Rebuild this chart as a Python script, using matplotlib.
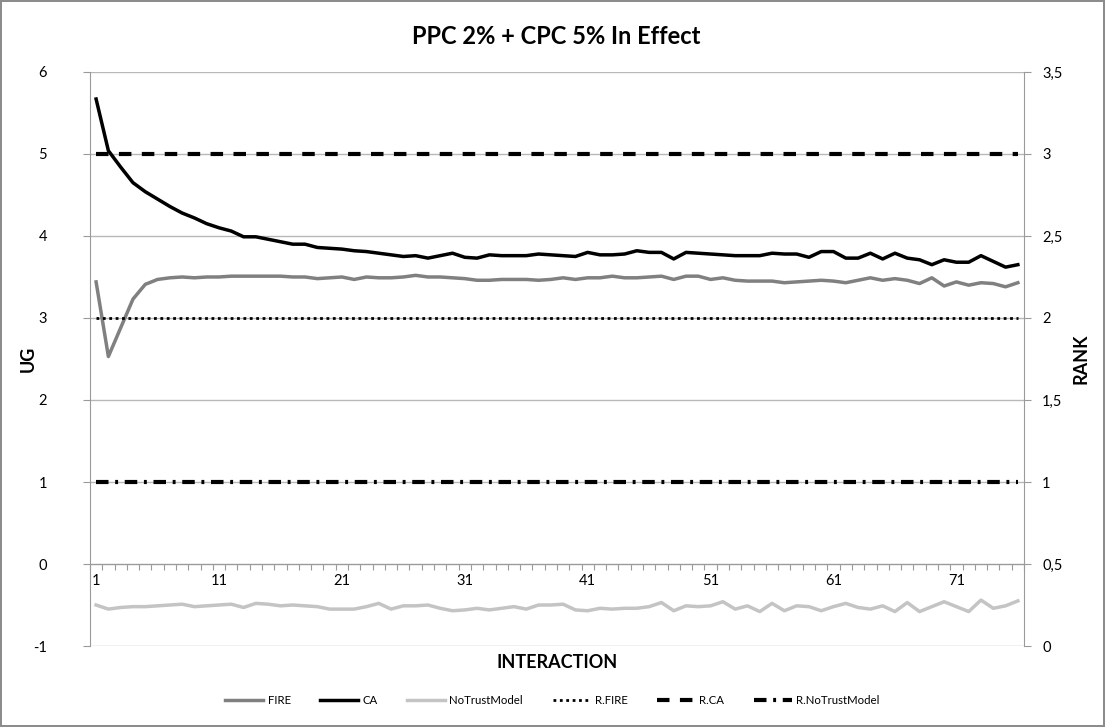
import matplotlib
matplotlib.use("Agg")
import matplotlib.pyplot as plt
from matplotlib.ticker import FixedLocator, FuncFormatter, NullFormatter

plt.rcParams["font.family"] = ["Lato", "DejaVu Sans"]
plt.rcParams["axes.unicode_minus"] = False

# Interaction index (category axis)
interaction = list(range(1, 77))

# UG values (left axis)
fire = [3.44, 2.53, 2.88, 3.23, 3.41, 3.47, 3.49, 3.50, 3.49, 3.50,
        3.50, 3.51, 3.51, 3.51, 3.51, 3.51, 3.50, 3.50, 3.48, 3.49,
        3.50, 3.47, 3.50, 3.49, 3.49, 3.50, 3.52, 3.50, 3.50, 3.49,
        3.48, 3.46, 3.46, 3.47, 3.47, 3.47, 3.46, 3.47, 3.49, 3.47,
        3.49, 3.49, 3.51, 3.49, 3.49, 3.50, 3.51, 3.47, 3.51, 3.51,
        3.47, 3.49, 3.46, 3.45, 3.45, 3.45, 3.43, 3.44, 3.45, 3.46,
        3.45, 3.43, 3.46, 3.49, 3.46, 3.48, 3.46, 3.42, 3.49, 3.39,
        3.44, 3.40, 3.43, 3.42, 3.38, 3.43]
ca = [5.67, 5.04, 4.84, 4.65, 4.54, 4.45, 4.36, 4.28, 4.22, 4.15,
      4.10, 4.06, 3.99, 3.99, 3.96, 3.93, 3.90, 3.90, 3.86, 3.85,
      3.84, 3.82, 3.81, 3.79, 3.77, 3.75, 3.76, 3.73, 3.76, 3.79,
      3.74, 3.73, 3.77, 3.76, 3.76, 3.76, 3.78, 3.77, 3.76, 3.75,
      3.80, 3.77, 3.77, 3.78, 3.82, 3.80, 3.80, 3.72, 3.80, 3.79,
      3.78, 3.77, 3.76, 3.76, 3.76, 3.79, 3.78, 3.78, 3.74, 3.81,
      3.81, 3.73, 3.73, 3.79, 3.72, 3.79, 3.73, 3.71, 3.65, 3.71,
      3.68, 3.68, 3.76, 3.69, 3.62, 3.65]
no_trust = [-0.50, -0.55, -0.53, -0.52, -0.52, -0.51, -0.50, -0.49, -0.52, -0.51,
            -0.50, -0.49, -0.53, -0.48, -0.49, -0.51, -0.50, -0.51, -0.52, -0.55,
            -0.55, -0.55, -0.52, -0.48, -0.55, -0.51, -0.51, -0.50, -0.54, -0.57,
            -0.56, -0.54, -0.56, -0.54, -0.52, -0.55, -0.50, -0.50, -0.49, -0.56,
            -0.57, -0.54, -0.55, -0.54, -0.54, -0.52, -0.47, -0.57, -0.51, -0.52,
            -0.51, -0.46, -0.55, -0.51, -0.58, -0.48, -0.57, -0.51, -0.52, -0.57,
            -0.52, -0.48, -0.53, -0.55, -0.51, -0.58, -0.47, -0.58, -0.52, -0.46,
            -0.52, -0.58, -0.44, -0.54, -0.51, -0.45]

# RANK values (right axis), constant over all interactions
r_fire = [2] * len(interaction)
r_ca = [3] * len(interaction)
r_no_trust = [1] * len(interaction)

x_labels = [1, 11, 21, 31, 41, 51, 61, 71]

axis_gray = "#9a9a9a"
grid_gray = "#b8b8b8"

fig = plt.figure(figsize=(11.05, 7.27), dpi=100)
fig.patch.set_edgecolor("#8c8c8c")
fig.patch.set_linewidth(1.5)

ax = fig.add_axes([0.0814, 0.1114, 0.8453, 0.7896])
ax2 = ax.twinx()

# UG lines
l_fire, = ax.plot(interaction, fire, color="#808080", lw=2.5, label="FIRE")
l_ca, = ax.plot(interaction, ca, color="black", lw=2.5, label="CA")
l_nt, = ax.plot(interaction, no_trust, color="#c4c4c4", lw=2.5, label="NoTrustModel")

# RANK lines
r1, = ax2.plot(interaction, r_fire, color="black", lw=2.0, dashes=(1, 1.3),
               dash_capstyle="butt", label="R.FIRE")
r2, = ax2.plot(interaction, r_ca, color="black", lw=3.0, dashes=(3, 2.5),
               dash_capstyle="butt", label="R.CA")
r3, = ax2.plot(interaction, r_no_trust, color="black", lw=3.0, dashes=(3, 1.6, 0.7, 1.6),
               dash_capstyle="butt", label="R.NoTrustModel")

ax.set_xlim(0.5, len(interaction) + 0.5)
ax.set_ylim(-1, 6)
ax2.set_ylim(0, 3.5)

# left axis
ax.set_yticks(range(-1, 7))
ax.yaxis.grid(True, color=grid_gray, lw=1.0)
ax.set_axisbelow(True)
ax.tick_params(axis="y", direction="out", length=5, color=axis_gray, labelsize=10.5, pad=26)

# category axis crossing at zero
ax.spines["bottom"].set_position(("data", 0))
ax.spines["bottom"].set_color(axis_gray)
ax.spines["left"].set_color(axis_gray)
ax.spines["top"].set_visible(False)
ax.spines["right"].set_visible(False)
ax.xaxis.set_major_locator(FixedLocator([i + 0.5 for i in range(0, len(interaction) + 1)]))
ax.xaxis.set_major_formatter(NullFormatter())
ax.xaxis.set_minor_locator(FixedLocator(x_labels))
ax.xaxis.set_minor_formatter(FuncFormatter(lambda v, p: f"{int(v)}"))
ax.tick_params(axis="x", which="major", direction="out", length=4, color=axis_gray)
ax.tick_params(axis="x", which="minor", length=0, labelsize=10.5, pad=7)

# right axis
ax2.set_yticks([0, 0.5, 1, 1.5, 2, 2.5, 3, 3.5])
ax2.yaxis.set_major_formatter(FuncFormatter(lambda v, p: f"{v:g}".replace(".", ",")))
ax2.tick_params(axis="y", direction="out", length=5, color=axis_gray, labelsize=10.5, pad=8)
for s in ["left", "top", "bottom"]:
    ax2.spines[s].set_visible(False)
ax2.spines["right"].set_color(axis_gray)

fig.text(0.503, 0.950, "PPC 2% + CPC 5% In Effect", ha="center", va="center",
         fontsize=17, fontweight="bold")
fig.text(0.026, 0.507, "UG", rotation=90, ha="center", va="center",
         fontsize=13, fontweight="bold")
fig.text(0.978, 0.507, "RANK", rotation=90, ha="center", va="center",
         fontsize=13, fontweight="bold")
fig.text(0.504, 0.089, "INTERACTION", ha="center", va="center",
         fontsize=13, fontweight="bold")

fig.legend(handles=[l_fire, l_ca, l_nt, r1, r2, r3], loc="center",
           bbox_to_anchor=(0.5, 0.037), ncol=6, frameon=False, fontsize=8.2,
           handlelength=3.3, columnspacing=2.6, handletextpad=0.4)

plt.savefig("out.png", dpi=100)
